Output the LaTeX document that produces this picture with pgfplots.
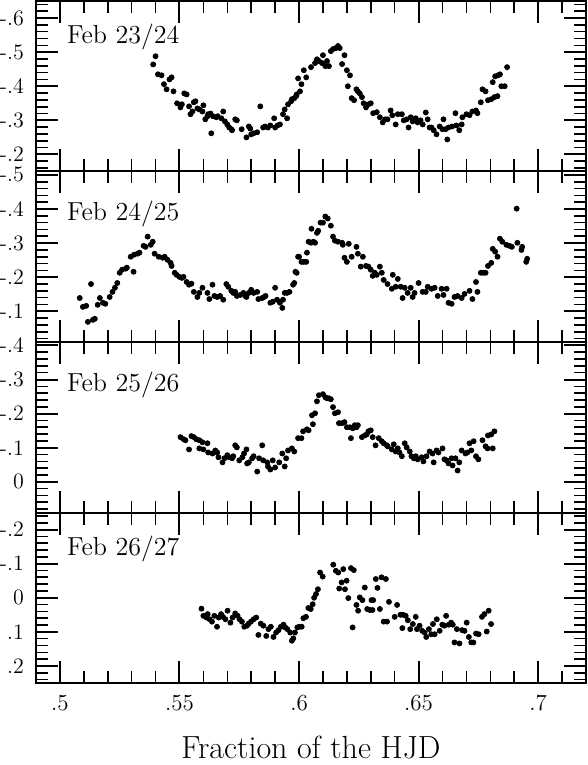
\documentclass[border=0pt]{standalone}
\usepackage{pgfplots}
\pgfplotsset{compat=1.18}
\usepgfplotslibrary{groupplots}

% light curves, one table per night (x = fraction of HJD, y = mag)
\pgfplotstableread{
x y
0.5390 -0.464
0.5400 -0.488
0.5410 -0.435
0.5425 -0.432
0.5435 -0.406
0.5446 -0.391
0.5458 -0.420
0.5467 -0.426
0.5475 -0.385
0.5490 -0.350
0.5504 -0.338
0.5510 -0.347
0.5520 -0.379
0.5530 -0.376
0.5540 -0.341
0.5546 -0.318
0.5554 -0.326
0.5560 -0.353
0.5567 -0.356
0.5575 -0.335
0.5583 -0.332
0.5596 -0.326
0.5600 -0.344
0.5608 -0.303
0.5617 -0.312
0.5620 -0.318
0.5630 -0.320
0.5633 -0.262
0.5640 -0.312
0.5654 -0.309
0.5660 -0.312
0.5675 -0.306
0.5683 -0.326
0.5690 -0.297
0.5700 -0.288
0.5708 -0.279
0.5717 -0.274
0.5720 -0.271
0.5733 -0.303
0.5740 -0.300
0.5760 -0.274
0.5780 -0.250
0.5790 -0.282
0.5796 -0.276
0.5800 -0.259
0.5810 -0.262
0.5825 -0.265
0.5838 -0.341
0.5850 -0.279
0.5858 -0.282
0.5870 -0.279
0.5880 -0.285
0.5896 -0.306
0.5900 -0.279
0.5910 -0.285
0.5920 -0.288
0.5933 -0.318
0.5940 -0.332
0.5950 -0.306
0.5954 -0.347
0.5967 -0.356
0.5970 -0.362
0.5980 -0.365
0.5988 -0.371
0.5990 -0.376
0.5996 -0.423
0.6004 -0.385
0.6010 -0.406
0.6020 -0.447
0.6030 -0.426
0.6050 -0.456
0.6067 -0.468
0.6075 -0.479
0.6083 -0.474
0.6096 -0.468
0.6100 -0.491
0.6110 -0.459
0.6117 -0.474
0.6125 -0.459
0.6133 -0.503
0.6142 -0.509
0.6154 -0.512
0.6163 -0.518
0.6170 -0.512
0.6180 -0.465
0.6190 -0.491
0.6200 -0.447
0.6204 -0.400
0.6213 -0.432
0.6220 -0.365
0.6230 -0.359
0.6240 -0.391
0.6246 -0.385
0.6254 -0.379
0.6263 -0.368
0.6270 -0.350
0.6280 -0.338
0.6290 -0.347
0.6300 -0.350
0.6310 -0.321
0.6325 -0.324
0.6338 -0.309
0.6350 -0.294
0.6360 -0.303
0.6370 -0.303
0.6383 -0.329
0.6390 -0.315
0.6404 -0.288
0.6413 -0.318
0.6430 -0.318
0.6438 -0.300
0.6450 -0.303
0.6458 -0.279
0.6467 -0.309
0.6475 -0.297
0.6488 -0.306
0.6496 -0.294
0.6508 -0.300
0.6517 -0.288
0.6530 -0.323
0.6538 -0.303
0.6546 -0.279
0.6554 -0.279
0.6563 -0.271
0.6575 -0.259
0.6588 -0.282
0.6600 -0.274
0.6604 -0.303
0.6613 -0.274
0.6620 -0.244
0.6625 -0.279
0.6640 -0.282
0.6654 -0.321
0.6658 -0.285
0.6670 -0.271
0.6680 -0.288
0.6683 -0.309
0.6700 -0.318
0.6713 -0.315
0.6725 -0.326
0.6740 -0.329
0.6746 -0.321
0.6760 -0.353
0.6767 -0.391
0.6780 -0.385
0.6790 -0.359
0.6804 -0.362
0.6810 -0.412
0.6817 -0.368
0.6820 -0.429
0.6830 -0.371
0.6832 -0.432
0.6840 -0.435
0.6846 -0.400
0.6860 -0.400
0.6870 -0.456
}\nightA

\pgfplotstableread{
x y
0.5083 -0.139
0.5096 -0.113
0.5110 -0.116
0.5117 -0.069
0.5130 -0.180
0.5138 -0.075
0.5146 -0.078
0.5158 -0.119
0.5167 -0.139
0.5180 -0.125
0.5190 -0.122
0.5208 -0.142
0.5220 -0.157
0.5230 -0.169
0.5240 -0.183
0.5250 -0.213
0.5260 -0.222
0.5275 -0.225
0.5280 -0.228
0.5296 -0.260
0.5308 -0.216
0.5310 -0.266
0.5325 -0.269
0.5333 -0.272
0.5350 -0.292
0.5358 -0.289
0.5367 -0.319
0.5380 -0.295
0.5388 -0.304
0.5396 -0.269
0.5413 -0.260
0.5430 -0.257
0.5438 -0.260
0.5450 -0.251
0.5463 -0.242
0.5467 -0.233
0.5480 -0.213
0.5488 -0.207
0.5500 -0.201
0.5510 -0.198
0.5517 -0.201
0.5530 -0.186
0.5540 -0.178
0.5550 -0.181
0.5560 -0.157
0.5575 -0.142
0.5583 -0.154
0.5596 -0.169
0.5617 -0.154
0.5625 -0.136
0.5638 -0.178
0.5646 -0.145
0.5658 -0.142
0.5670 -0.145
0.5683 -0.134
0.5696 -0.180
0.5704 -0.172
0.5717 -0.160
0.5725 -0.154
0.5733 -0.157
0.5740 -0.145
0.5754 -0.148
0.5767 -0.154
0.5775 -0.145
0.5780 -0.142
0.5790 -0.154
0.5800 -0.163
0.5810 -0.154
0.5825 -0.157
0.5830 -0.136
0.5846 -0.139
0.5854 -0.142
0.5860 -0.145
0.5880 -0.125
0.5890 -0.128
0.5900 -0.169
0.5908 -0.134
0.5920 -0.125
0.5930 -0.110
0.5933 -0.134
0.5940 -0.154
0.5950 -0.154
0.5960 -0.157
0.5975 -0.178
0.5980 -0.183
0.5985 -0.216
0.5990 -0.213
0.5996 -0.260
0.6000 -0.260
0.6010 -0.245
0.6020 -0.245
0.6030 -0.245
0.6033 -0.272
0.6040 -0.304
0.6050 -0.301
0.6052 -0.342
0.6060 -0.304
0.6067 -0.301
0.6075 -0.330
0.6080 -0.336
0.6090 -0.360
0.6100 -0.360
0.6110 -0.378
0.6120 -0.372
0.6133 -0.351
0.6142 -0.319
0.6150 -0.307
0.6163 -0.304
0.6180 -0.301
0.6183 -0.295
0.6190 -0.257
0.6200 -0.245
0.6208 -0.298
0.6220 -0.260
0.6240 -0.289
0.6246 -0.269
0.6258 -0.231
0.6267 -0.260
0.6280 -0.233
0.6290 -0.231
0.6300 -0.222
0.6308 -0.204
0.6317 -0.213
0.6325 -0.207
0.6338 -0.231
0.6346 -0.213
0.6354 -0.192
0.6370 -0.180
0.6388 -0.166
0.6392 -0.207
0.6404 -0.172
0.6413 -0.195
0.6425 -0.172
0.6433 -0.139
0.6442 -0.169
0.6454 -0.154
0.6467 -0.169
0.6475 -0.142
0.6483 -0.154
0.6500 -0.183
0.6517 -0.157
0.6530 -0.157
0.6538 -0.172
0.6554 -0.166
0.6567 -0.169
0.6580 -0.145
0.6596 -0.166
0.6604 -0.148
0.6617 -0.166
0.6625 -0.125
0.6638 -0.122
0.6650 -0.142
0.6663 -0.145
0.6680 -0.139
0.6692 -0.151
0.6713 -0.160
0.6725 -0.136
0.6740 -0.186
0.6746 -0.157
0.6760 -0.213
0.6770 -0.213
0.6780 -0.213
0.6790 -0.233
0.6804 -0.242
0.6810 -0.283
0.6820 -0.275
0.6830 -0.260
0.6840 -0.313
0.6850 -0.304
0.6867 -0.295
0.6880 -0.292
0.6890 -0.289
0.6910 -0.401
0.6913 -0.301
0.6930 -0.280
0.6933 -0.289
0.6950 -0.245
0.6954 -0.254
}\nightB

\pgfplotstableread{
x y
0.5504 -0.131
0.5517 -0.125
0.5525 -0.122
0.5540 -0.095
0.5550 -0.134
0.5560 -0.131
0.5570 -0.125
0.5583 -0.122
0.5583 -0.098
0.5596 -0.116
0.5600 -0.095
0.5617 -0.113
0.5620 -0.086
0.5638 -0.083
0.5650 -0.092
0.5658 -0.086
0.5663 -0.072
0.5680 -0.057
0.5688 -0.069
0.5700 -0.078
0.5708 -0.072
0.5720 -0.069
0.5725 -0.075
0.5733 -0.107
0.5740 -0.101
0.5750 -0.063
0.5763 -0.072
0.5770 -0.083
0.5780 -0.095
0.5783 -0.054
0.5790 -0.057
0.5804 -0.069
0.5810 -0.075
0.5825 -0.030
0.5833 -0.069
0.5846 -0.107
0.5850 -0.063
0.5867 -0.057
0.5870 -0.045
0.5880 -0.036
0.5890 -0.063
0.5900 -0.042
0.5917 -0.057
0.5930 -0.083
0.5940 -0.045
0.5946 -0.069
0.5954 -0.092
0.5970 -0.098
0.5980 -0.089
0.5996 -0.128
0.6010 -0.128
0.6017 -0.148
0.6033 -0.154
0.6040 -0.151
0.6054 -0.195
0.6058 -0.169
0.6067 -0.201
0.6075 -0.236
0.6083 -0.254
0.6100 -0.257
0.6110 -0.248
0.6117 -0.245
0.6125 -0.245
0.6133 -0.242
0.6142 -0.219
0.6150 -0.201
0.6163 -0.204
0.6167 -0.172
0.6180 -0.172
0.6190 -0.175
0.6200 -0.160
0.6213 -0.160
0.6217 -0.128
0.6225 -0.157
0.6233 -0.166
0.6240 -0.160
0.6246 -0.166
0.6263 -0.131
0.6275 -0.136
0.6283 -0.139
0.6290 -0.148
0.6300 -0.151
0.6308 -0.131
0.6320 -0.107
0.6333 -0.128
0.6346 -0.119
0.6354 -0.113
0.6367 -0.107
0.6371 -0.104
0.6388 -0.095
0.6396 -0.110
0.6404 -0.089
0.6413 -0.098
0.6420 -0.086
0.6430 -0.075
0.6442 -0.113
0.6450 -0.101
0.6463 -0.089
0.6470 -0.075
0.6480 -0.069
0.6488 -0.075
0.6496 -0.066
0.6513 -0.072
0.6520 -0.060
0.6533 -0.075
0.6546 -0.089
0.6558 -0.083
0.6563 -0.057
0.6575 -0.092
0.6583 -0.086
0.6600 -0.098
0.6608 -0.066
0.6617 -0.063
0.6625 -0.054
0.6638 -0.069
0.6642 -0.048
0.6654 -0.069
0.6663 -0.033
0.6670 -0.057
0.6680 -0.092
0.6696 -0.083
0.6704 -0.086
0.6713 -0.113
0.6720 -0.092
0.6730 -0.119
0.6740 -0.075
0.6750 -0.066
0.6767 -0.122
0.6780 -0.104
0.6788 -0.098
0.6790 -0.136
0.6804 -0.139
0.6810 -0.098
0.6817 -0.148
}\nightC

\pgfplotstableread{
x y
0.5592 0.032
0.5600 0.053
0.5613 0.058
0.5618 0.048
0.5626 0.063
0.5636 0.070
0.5646 0.053
0.5657 0.085
0.5664 0.058
0.5674 0.048
0.5682 0.056
0.5692 0.063
0.5701 0.038
0.5713 0.073
0.5722 0.058
0.5733 0.046
0.5743 0.053
0.5751 0.063
0.5761 0.070
0.5771 0.085
0.5782 0.082
0.5789 0.076
0.5799 0.070
0.5810 0.063
0.5821 0.058
0.5830 0.109
0.5840 0.076
0.5851 0.082
0.5863 0.112
0.5872 0.092
0.5882 0.085
0.5893 0.115
0.5904 0.102
0.5914 0.095
0.5924 0.085
0.5935 0.079
0.5942 0.087
0.5951 0.092
0.5963 0.102
0.5970 0.126
0.5976 0.119
0.5983 0.102
0.5993 0.087
0.6001 0.085
0.6011 0.085
0.6018 0.060
0.6029 0.056
0.6039 0.030
0.6049 0.033
0.6057 0.019
0.6063 0.000
0.6071 -0.011
0.6079 -0.025
0.6088 -0.074
0.6099 -0.062
0.6143 -0.097
0.6154 -0.079
0.6164 -0.074
0.6168 -0.027
0.6178 -0.045
0.6185 -0.084
0.6192 -0.025
0.6199 -0.050
0.6206 0.001
0.6217 -0.087
0.6224 0.087
0.6229 -0.081
0.6240 0.021
0.6247 0.038
0.6254 -0.001
0.6265 0.007
0.6275 -0.030
0.6285 0.033
0.6296 0.036
0.6303 0.007
0.6307 0.036
0.6310 0.007
0.6321 -0.055
0.6328 -0.029
0.6338 0.033
0.6345 -0.060
0.6354 0.070
0.6363 -0.055
0.6368 0.070
0.6376 0.012
0.6400 0.056
0.6410 0.021
0.6424 0.050
0.6432 0.089
0.6435 0.050
0.6446 0.053
0.6455 0.066
0.6465 0.092
0.6476 0.077
0.6488 0.056
0.6493 0.092
0.6504 0.082
0.6515 0.097
0.6525 0.102
0.6532 0.115
0.6543 0.092
0.6553 0.107
0.6560 0.077
0.6567 0.107
0.6576 0.063
0.6588 0.097
0.6599 0.079
0.6608 0.082
0.6615 0.053
0.6626 0.079
0.6636 0.073
0.6643 0.079
0.6650 0.131
0.6660 0.092
0.6671 0.134
0.6682 0.095
0.6692 0.097
0.6701 0.073
0.6710 0.115
0.6720 0.131
0.6729 0.131
0.6740 0.105
0.6751 0.107
0.6765 0.056
0.6775 0.048
0.6785 0.099
0.6793 0.038
0.6803 0.077
}\nightD

\pgfplotsset{
  pts/.style={only marks, mark=*, mark size=1.25pt, black},
}
\tikzset{
  night/.style={font=\fontsize{13}{15}\selectfont, anchor=base west, inner sep=0pt},
}

\begin{document}
\begin{tikzpicture}
\begin{groupplot}[
  group style={group size=1 by 4, vertical sep=0pt, xticklabels at=edge bottom},
  scale only axis, width=275pt, height=85.25pt,
  xmin=0.49, xmax=0.72,
  y dir=reverse,
  xtick={0.5,0.55,0.6,0.65,0.7},
  xticklabels={.5,.55,.6,.65,.7},
  minor xtick={0.49,0.50,...,0.72},
  axis line style={line width=1pt},
  major tick length=11pt, minor tick length=6pt,
  major tick style={line width=1pt, black},
  minor tick style={line width=0.8pt, black},
  yticklabel style={font=\fontsize{11}{12}\selectfont, xshift=-2.5pt},
  xticklabel style={font=\fontsize{11.5}{12}\selectfont, yshift=-2.5pt},
]
\nextgroupplot[ymin=-0.65, ymax=-0.15,
  ytick={-0.6,-0.5,-0.4,-0.3,-0.2}, yticklabels={-.6,-.5,-.4,-.3,-.2},
  minor ytick={-0.64,-0.62,...,-0.16}]
\addplot[pts] table {\nightA};
\node[night] at (axis description cs:0.056,0.748) {Feb 23/24};

\nextgroupplot[ymin=-0.51, ymax=-0.01,
  ytick={-0.5,-0.4,-0.3,-0.2,-0.1}, yticklabels={-.5,-.4,-.3,-.2,-.1},
  minor ytick={-0.5,-0.48,...,-0.02}]
\addplot[pts] table {\nightB};
\node[night] at (axis description cs:0.056,0.71) {Feb 24/25};

\nextgroupplot[ymin=-0.41, ymax=0.09,
  ytick={-0.4,-0.3,-0.2,-0.1,0}, yticklabels={-.4,-.3,-.2,-.1,0},
  minor ytick={-0.4,-0.38,...,0.08}]
\addplot[pts] table {\nightC};
\node[night] at (axis description cs:0.056,0.71) {Feb 25/26};

\nextgroupplot[ymin=-0.25, ymax=0.25,
  ytick={-0.2,-0.1,0,0.1,0.2}, yticklabels={-.2,-.1,0,.1,.2},
  minor ytick={-0.24,-0.22,...,0.24},
  xlabel={Fraction of the HJD},
  xlabel style={font=\fontsize{16}{18}\selectfont, inner sep=0pt, yshift=-9pt}]
\addplot[pts] table {\nightD};
\node[night] at (axis description cs:0.056,0.748) {Feb 26/27};
\end{groupplot}
\pgfresetboundingbox
\path ([xshift=-18pt,yshift=0.5pt]group c1r1.north west) rectangle ([xshift=1pt,yshift=-41pt]group c1r4.south east);
\end{tikzpicture}
\end{document}
